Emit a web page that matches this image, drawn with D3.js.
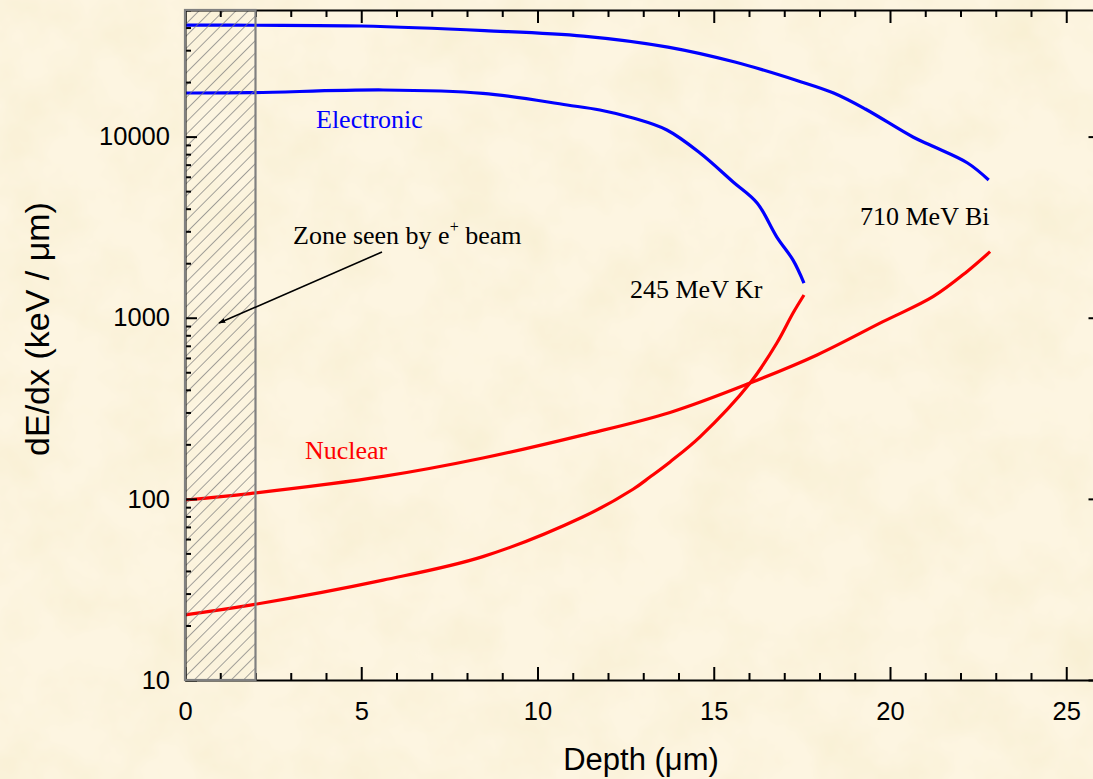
<!DOCTYPE html>
<html>
<head>
<meta charset="utf-8">
<script src="https://cdn.jsdelivr.net/npm/d3@7"></script>
<style>
  html, body { margin: 0; padding: 0; background: #fcf3dd; }
  svg { display: block; }
  .tick text { font-family: "Liberation Sans", Arial, sans-serif; font-size: 25.5px; fill: #000; }
  .tick line, .domain { stroke: #000; stroke-width: 2; }
</style>
</head>
<body>
<svg id="chart" width="1093" height="779"></svg>
<script>
// Stopping power of swift heavy ions vs depth (electronic and nuclear components)
const xMajor = [0, 5, 10, 15, 20, 25];
const yMajor = [10, 100, 1000, 10000];

// 710 MeV Bi
const biElecDepth = [0, 2.0, 5.0, 8.5, 11.3, 13.7, 15.6, 17.4, 18.4, 19.3, 20.65, 21.2, 22.2, 22.8];
const biElecValue = [41300, 41200, 40800, 38500, 35900, 31200, 25800, 20300, 17400, 14200, 9950, 8870, 7150, 5760];
const biNuclDepth = [0, 1.84, 5.62, 8.45, 11.28, 13.76, 16.03, 17.93, 19.8, 21.22, 22.18, 22.84];
const biNuclValue = [98.6, 107, 133, 168, 225, 300, 436, 623, 951, 1307, 1796, 2316];

// 245 MeV Kr
const krElecDepth = [0, 1.84, 5.62, 8.45, 10.84, 11.77, 12.71, 13.67, 14.61, 15.55, 16.23, 16.79, 17.25, 17.56];
const krElecValue = [17410, 17470, 18090, 17340, 14950, 14030, 12670, 10880, 8120, 5620, 4300, 2790, 2080, 1555];
const krNuclDepth = [0, 1.85, 5.62, 8.45, 11.28, 12.71, 13.19, 13.76, 14.61, 16.03, 16.79, 17.25, 17.56];
const krNuclValue = [22.9, 25.9, 35.6, 48.0, 79.4, 113, 132, 160, 220, 436, 725, 1062, 1335];

// Depth range probed by the positron beam
const zoneRange = [0, 2];

const W = 1093, H = 779;
const svg = d3.select("#chart");

const x = d3.scaleLinear().domain([0, 26]).range([185, 1101.5]);
const y = d3.scaleLog().domain([10, 50000]).range([680, 10]);

// parchment-like background
const defs = svg.append("defs");
const paper = defs.append("filter").attr("id", "paper")
  .attr("x", 0).attr("y", 0).attr("width", "100%").attr("height", "100%");
paper.append("feTurbulence").attr("type", "fractalNoise")
  .attr("baseFrequency", "0.016").attr("numOctaves", 4).attr("seed", 7);
paper.append("feColorMatrix").attr("type", "matrix")
  .attr("values", "0 0 0 0 0.88  0 0 0 0 0.80  0 0 0 0 0.52  0.7 0 0 0 -0.25");

svg.append("rect").attr("width", W).attr("height", H).attr("fill", "#fdf5e1");
svg.append("rect").attr("width", W).attr("height", H).attr("filter", "url(#paper)");

// diagonal hatch
const hatch = defs.append("pattern").attr("id", "hatch")
  .attr("patternUnits", "userSpaceOnUse")
  .attr("width", 8.7).attr("height", 8.7)
  .attr("patternTransform", "rotate(45)");
hatch.append("line").attr("x1", 0).attr("y1", 0).attr("x2", 0).attr("y2", 8.7)
  .attr("stroke", "#7d7d7d").attr("stroke-width", 1.4);

const arrowHead = defs.append("marker").attr("id", "arrow")
  .attr("viewBox", "0 0 10 10").attr("refX", 9).attr("refY", 5)
  .attr("markerWidth", 7).attr("markerHeight", 7).attr("orient", "auto")
  .attr("markerUnits", "userSpaceOnUse");
arrowHead.append("path").attr("d", "M0,1.5 L10,5 L0,8.5 Z").attr("fill", "#000");

// curves
const line = d3.line()
  .x(d => x(d[0]))
  .y(d => y(d[1]))
  .curve(d3.curveCatmullRom.alpha(0.5));

const series = [
  { depth: biElecDepth, value: biElecValue, color: "#0000ff" },
  { depth: krElecDepth, value: krElecValue, color: "#0000ff" },
  { depth: biNuclDepth, value: biNuclValue, color: "#ff0000" },
  { depth: krNuclDepth, value: krNuclValue, color: "#ff0000" }
];

svg.append("g").selectAll("path").data(series).join("path")
  .attr("d", s => line(d3.zip(s.depth, s.value)))
  .attr("fill", "none")
  .attr("stroke", s => s.color)
  .attr("stroke-width", 3.2)
  .attr("stroke-linejoin", "round");

// hatched zone
svg.append("rect")
  .attr("x", x(zoneRange[0])).attr("y", y(50000))
  .attr("width", x(zoneRange[1]) - x(zoneRange[0]))
  .attr("height", y(10) - y(50000))
  .attr("fill", "url(#hatch)");

// axes
const xMinor = d3.range(0, 27).filter(v => !xMajor.includes(v));
const yMinor = y.ticks(30).filter(v => !yMajor.includes(v));

svg.append("g").attr("transform", "translate(0,680)")
  .call(d3.axisBottom(x).tickValues(xMajor).tickSize(-13).tickSizeOuter(0).tickPadding(22).tickFormat(d3.format("d")));
svg.append("g").attr("transform", "translate(0,680)")
  .call(d3.axisBottom(x).tickValues(xMinor).tickSize(-7).tickFormat(""))
  .call(g => g.select(".domain").remove());

svg.append("g").attr("transform", "translate(0,10)")
  .call(d3.axisTop(x).tickValues(xMajor).tickSize(-13).tickSizeOuter(0).tickFormat(""));
svg.append("g").attr("transform", "translate(0,10)")
  .call(d3.axisTop(x).tickValues(xMinor).tickSize(-7).tickFormat(""))
  .call(g => g.select(".domain").remove());

svg.append("g").attr("transform", `translate(${x(0)},0)`)
  .call(d3.axisLeft(y).tickValues(yMajor).tickSize(-12).tickSizeOuter(0).tickPadding(15).tickFormat(d3.format("d")));
svg.append("g").attr("transform", `translate(${x(0)},0)`)
  .call(d3.axisLeft(y).tickValues(yMinor).tickSize(-6).tickFormat(""))
  .call(g => g.select(".domain").remove());

svg.append("g").attr("transform", `translate(${x(26)},0)`)
  .call(d3.axisRight(y).tickValues(yMajor).tickSize(-13).tickSizeOuter(0).tickFormat(""));

// zone border drawn over the frame
svg.append("rect")
  .attr("x", x(zoneRange[0])).attr("y", y(50000))
  .attr("width", x(zoneRange[1]) - x(zoneRange[0]))
  .attr("height", y(10) - y(50000))
  .attr("fill", "none").attr("stroke", "#808080").attr("stroke-width", 2.2);

// axis titles
svg.append("text")
  .attr("x", 641).attr("y", 770)
  .attr("text-anchor", "middle")
  .attr("font-family", "Liberation Sans, Arial, sans-serif")
  .attr("font-size", 31)
  .text("Depth (μm)");

svg.append("text")
  .attr("transform", "translate(49,329) rotate(-90)")
  .attr("text-anchor", "middle")
  .attr("font-family", "Liberation Sans, Arial, sans-serif")
  .attr("font-size", 34)
  .text("dE/dx (keV / μm)");

// annotations
const serif = "Liberation Serif, Times New Roman, serif";
const note = (tx, ty, txt, color) => svg.append("text")
  .attr("x", tx).attr("y", ty)
  .attr("font-family", serif).attr("font-size", 26)
  .attr("fill", color).text(txt);

note(316, 128, "Electronic", "#0000ff");
note(305, 459, "Nuclear", "#ff0000");
note(630, 298, "245 MeV Kr", "#000");
note(860, 225, "710 MeV Bi", "#000");

const zoneLabel = svg.append("text")
  .attr("x", 293).attr("y", 244)
  .attr("font-family", serif).attr("font-size", 26).attr("fill", "#000");
zoneLabel.append("tspan").text("Zone seen by e");
zoneLabel.append("tspan").attr("font-size", 16).attr("dy", -12).text("+");
zoneLabel.append("tspan").attr("dy", 12).text(" beam");

svg.append("line")
  .attr("x1", 382).attr("y1", 252).attr("x2", 219).attr("y2", 323)
  .attr("stroke", "#000").attr("stroke-width", 1.6)
  .attr("marker-end", "url(#arrow)");
</script>
</body>
</html>
